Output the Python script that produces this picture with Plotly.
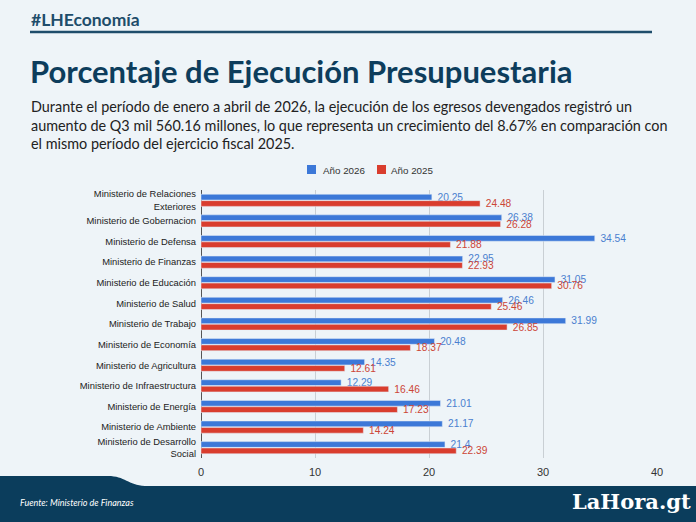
import plotly.graph_objects as go

categories = [
    "Ministerio de Relaciones<br>Exteriores",
    "Ministerio de Gobernacion",
    "Ministerio de Defensa",
    "Ministerio de Finanzas",
    "Ministerio de Educación",
    "Ministerio de Salud",
    "Ministerio de Trabajo",
    "Ministerio de Economía",
    "Ministerio de Agricultura",
    "Ministerio de Infraestructura",
    "Ministerio de Energía",
    "Ministerio de Ambiente",
    "Ministerio de Desarrollo<br>Social",
]
values_2026 = [20.25, 26.38, 34.54, 22.95, 31.05, 26.46, 31.99, 20.48, 14.35, 12.29, 21.01, 21.17, 21.4]
values_2025 = [24.48, 26.28, 21.88, 22.93, 30.76, 25.46, 26.85, 18.37, 12.61, 16.46, 17.23, 14.24, 22.39]
x_ticks = [0, 10, 20, 30, 40]
series_names = ["Año 2026", "Año 2025"]

W, H = 696, 522
L, R, T, B = 201, 39, 190, 64
PW, PH = W - L - R, H - T - B

def px(x):
    return (x - L) / PW

def py(y):
    return (H - B - y) / PH

BG = "#eef4f8"
NAVY = "#0b3d5c"
BLUE = "#3c78d8"
RED = "#d93d2e"
NB = "\u00a0\u00a0"
LBL = "Liberation Sans, Arial"

fig = go.Figure()
fig.add_trace(go.Bar(
    y=categories, x=values_2026, orientation="h", name=series_names[0],
    marker_color=BLUE, text=[NB + str(v) for v in values_2026],
    textposition="outside", constraintext="none", cliponaxis=False,
    textfont=dict(family=LBL, size=10.2, color="#4a7fcf"),
))
fig.add_trace(go.Bar(
    y=categories, x=values_2025, orientation="h", name=series_names[1],
    marker_color=RED, text=[NB + str(v) for v in values_2025],
    textposition="outside", constraintext="none", cliponaxis=False,
    textfont=dict(family=LBL, size=10.2, color="#cc4536"),
))

shapes = []
# header rule
shapes.append(dict(type="line", xref="paper", yref="paper",
                   x0=px(30), x1=px(652), y0=py(32), y1=py(32),
                   line=dict(color="#1e4d6b", width=2.5)))
# footer
path = (f"M {px(0)},{py(476)} L {px(108)},{py(476)} "
        f"C {px(125)},{py(476)} {px(128)},{py(485)} {px(145)},{py(486)} "
        f"L {px(696)},{py(486)} L {px(696)},{py(522)} L {px(0)},{py(522)} Z")
shapes.append(dict(type="path", xref="paper", yref="paper", path=path,
                   fillcolor=NAVY, line=dict(width=0), layer="above"))
# legend swatches
for sx, col in [(307, BLUE), (377, RED)]:
    shapes.append(dict(type="rect", xref="paper", yref="paper",
                       x0=px(sx), x1=px(sx + 9), y0=py(165), y1=py(174),
                       fillcolor=col, line=dict(width=0)))

annotations = [
    dict(text="<b>#LHEconomía</b>", x=px(29), y=py(19), xref="paper", yref="paper",
         xanchor="left", yanchor="middle", showarrow=False,
         font=dict(family="Lato", size=17.5, color="#1e4d6b")),
    dict(text="<b>Porcentaje de Ejecución Presupuestaria</b>", x=px(28), y=py(71),
         xref="paper", yref="paper", xanchor="left", yanchor="middle", showarrow=False,
         font=dict(family="Lato", size=31, color="#0d3d5c")),
    dict(text=("Durante el período de enero a abril de 2026, la ejecución de los egresos devengados registró un<br>"
               "aumento de Q3 mil 560.16 millones, lo que representa un crecimiento del 8.67% en comparación con<br>"
               "el mismo período del ejercicio fiscal 2025."),
         x=px(29), y=py(125), xref="paper", yref="paper", xanchor="left", yanchor="middle",
         align="left", showarrow=False,
         font=dict(family="Lato", size=14.4, color="#222222")),
    dict(text=series_names[0], x=px(321), y=py(170), xref="paper", yref="paper",
         xanchor="left", yanchor="middle", showarrow=False,
         font=dict(family=LBL, size=9.8, color="#333333")),
    dict(text=series_names[1], x=px(389), y=py(170), xref="paper", yref="paper",
         xanchor="left", yanchor="middle", showarrow=False,
         font=dict(family=LBL, size=9.8, color="#333333")),
    dict(text="<i>Fuente: Ministerio de Finanzas</i>", x=px(18), y=py(502), xref="paper", yref="paper",
         xanchor="left", yanchor="middle", showarrow=False,
         font=dict(family="Lato", size=9, color="white")),
    dict(text="<b>LaHora.gt</b>", x=px(693), y=py(501), xref="paper", yref="paper",
         xanchor="right", yanchor="middle", showarrow=False,
         font=dict(family="DejaVu Serif", size=21, color="white")),
]

fig.update_layout(
    width=W, height=H,
    margin=dict(l=L, r=R, t=T, b=B, pad=0),
    paper_bgcolor=BG, plot_bgcolor=BG,
    barmode="group", bargap=0.38, bargroupgap=0.1,
    showlegend=False,
    xaxis=dict(range=[0, 40], tickvals=x_ticks, showgrid=True, gridcolor="#c9cfd4",
               gridwidth=1, zeroline=True, zerolinecolor="#555555", zerolinewidth=1,
               ticks="", tickfont=dict(family=LBL, size=11, color="#333333"),
               ticklabelstandoff=6, fixedrange=True),
    yaxis=dict(autorange="reversed", ticks="", showgrid=False,
               tickfont=dict(family=LBL, size=9.4, color="#222222"),
               ticklabelstandoff=4),
    shapes=shapes, annotations=annotations,
    font=dict(family=LBL),
)

fig.write_html("out.html")
